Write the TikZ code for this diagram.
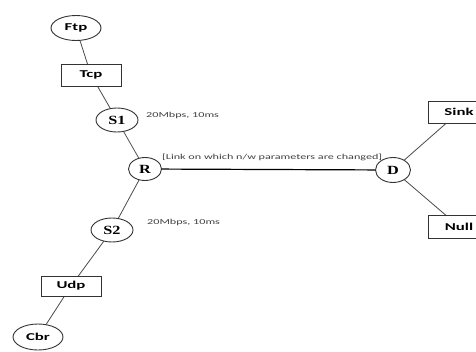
\documentclass[tikz,border=0pt]{standalone}
\usepackage{fontspec}
\usetikzlibrary{shapes.geometric}
\newfontfamily\nodefont[FakeStretch=1.6]{Carlito}
\newfontfamily\serfont[FakeStretch=1.3]{Liberation Serif}
\newfontfamily\lblfont[FakeStretch=1.6]{Carlito}
\definecolor{edge}{HTML}{4A4A4A}
\definecolor{rim}{HTML}{333333}
\tikzset{
  ell/.style={ellipse, draw=rim, line width=0.9pt, inner sep=0pt, fill=white},
  boxnode/.style={rectangle, draw=rim, line width=0.9pt, inner sep=0pt, fill=white,
    minimum width=60pt, minimum height=22pt, font=\nodefont\fontsize{10.5}{11}\selectfont\bfseries},
  appnode/.style={ell, minimum width=50pt, minimum height=25pt, font=\nodefont\fontsize{10.5}{11}\selectfont\bfseries},
  rtr/.style={ell, minimum width=42pt, minimum height=24pt, font=\serfont\fontsize{12.5}{13}\selectfont\bfseries},
  link/.style={draw=edge, line width=0.8pt},
  mainlink/.style={draw=black, line width=1.2pt},
  lbl/.style={anchor=west, inner sep=0pt, text=black!75, font=\lblfont\fontsize{7.6}{8}\selectfont}
}
\begin{document}
\begin{tikzpicture}[x=1pt, y=-1pt]
\useasboundingbox (0,0) rectangle (476,351);
% connectors first (nodes are filled and drawn on top)
\coordinate (cFtp) at (76,28);
\coordinate (cTcp) at (91,75);
\coordinate (cS1) at (117,120);
\coordinate (cR) at (145,169);
\coordinate (cS2) at (112,230);
\coordinate (cUdp) at (71,286);
\coordinate (cCbr) at (38,337);
\coordinate (cD) at (393,170);
\coordinate (cSink) at (459,112);
\coordinate (cNull) at (459,226.5);
\draw[link] (cFtp) -- (cTcp) -- (cS1) -- (cR) -- (cS2) -- (cUdp) -- (cCbr);
\draw[link] (cD) -- (cSink);
\draw[link] (cD) -- (cNull);
\draw[mainlink] (cR) -- (cD);
% nodes
\node[appnode] (Ftp) at (cFtp) {Ftp};
\node[boxnode] (Tcp) at (cTcp) {Tcp};
\node[rtr] (S1) at (cS1) {S1};
\node[rtr, minimum width=33pt, minimum height=23pt] (R) at (cR) {R};
\node[rtr] (S2) at (cS2) {S2};
\node[boxnode, minimum height=20pt] (Udp) at (cUdp) {Udp};
\node[appnode, minimum height=26pt] (Cbr) at (cCbr) {Cbr};
\node[rtr, minimum width=35pt, minimum height=25pt] (D) at (cD) {D};
\node[boxnode, minimum width=62pt] (Sink) at (cSink) {Sink};
\node[boxnode, minimum width=62pt, minimum height=23pt] (Null) at (cNull) {Null};
% labels
\node[lbl] (l1) at (146,115) {20Mbps, 10ms};
\node[lbl] (l2) at (147,222) {20Mbps, 10ms};
\node[lbl] (l3) at (162,157) {[Link on which n/w parameters are changed]};
\end{tikzpicture}
\end{document}
